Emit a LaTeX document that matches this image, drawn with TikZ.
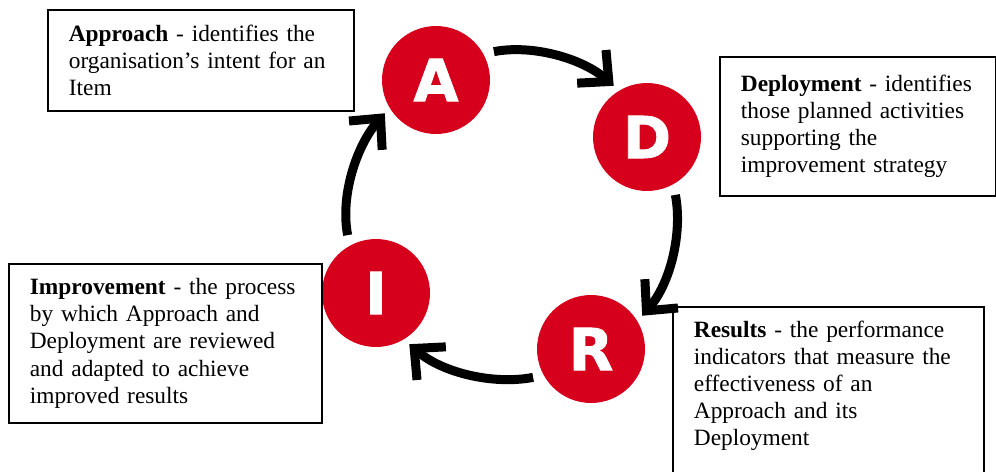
\documentclass[tikz,border=0pt]{standalone}
\usepackage{fontspec}
\setmainfont{Liberation Serif}
\newfontfamily\letterfont{DejaVu Sans}[BoldFeatures={FakeBold=1.5}]
\usetikzlibrary{arrows.meta}
\definecolor{adirred}{RGB}{214,0,28}
\tikzset{
  stage/.style={circle, fill=adirred, minimum size=2.16cm, inner sep=0pt, text=white,
    font=\letterfont\bfseries\fontsize{33}{33}\selectfont},
  infobox/.style={draw, line width=1pt, anchor=north west, align=left, inner xsep=0.42cm,
    font=\fontsize{13.3}{15.4}\selectfont},
  cyclearrow/.style={line width=0.18cm, -{Straight Barb[length=13pt,width=25pt]},
    shorten <=6pt, shorten >=4pt, looseness=0.9}
}
\begin{document}
\begin{tikzpicture}[x=0.02cm, y=0.02cm]
  \useasboundingbox (0,0) rectangle (996,471);
  \clip (0,0) rectangle (996,471);

  % the four stages
  \node[stage] (A) at (436,391) {A};
  \node[stage] (D) at (647,334) {D};
  \node[stage] (R) at (591,122) {R};
  \node[stage] (I) at (376,178) {I};

  % cycle arrows
  \draw[cyclearrow] (A.29) to[out=11, in=139] (D.121);
  \draw[cyclearrow] (D.-61) to[out=-79, in=49] (R.31);
  \draw[cyclearrow] (R.-151) to[out=-169, in=-41] (I.-59);
  \draw[cyclearrow] (I.119) to[out=101, in=229] (A.211);

  % descriptions
  \node[infobox, text width=5.28cm, minimum height=2.02cm] (approach) at (47,462)
    {\textbf{Approach} - identifies the\\organisation’s intent for an\\Item};
  \node[infobox, text width=4.68cm, minimum height=2.78cm] (deployment) at (719,415)
    {\mbox{\textbf{Deployment} - identifies}\\those planned activities\\supporting the\\improvement strategy};
  \node[infobox, text width=5.42cm, minimum height=3.18cm] (improvement) at (8,208)
    {\textbf{Improvement} - the process\\by which Approach and\\Deployment are reviewed\\and adapted to achieve\\improved results};
  \node[infobox, text width=5.38cm, inner ysep=0.274cm, text depth=4cm] (results) at (672,165)
    {\textbf{Results} - the performance\\indicators that measure the\\effectiveness of an\\Approach and its\\Deployment};
\end{tikzpicture}
\end{document}
